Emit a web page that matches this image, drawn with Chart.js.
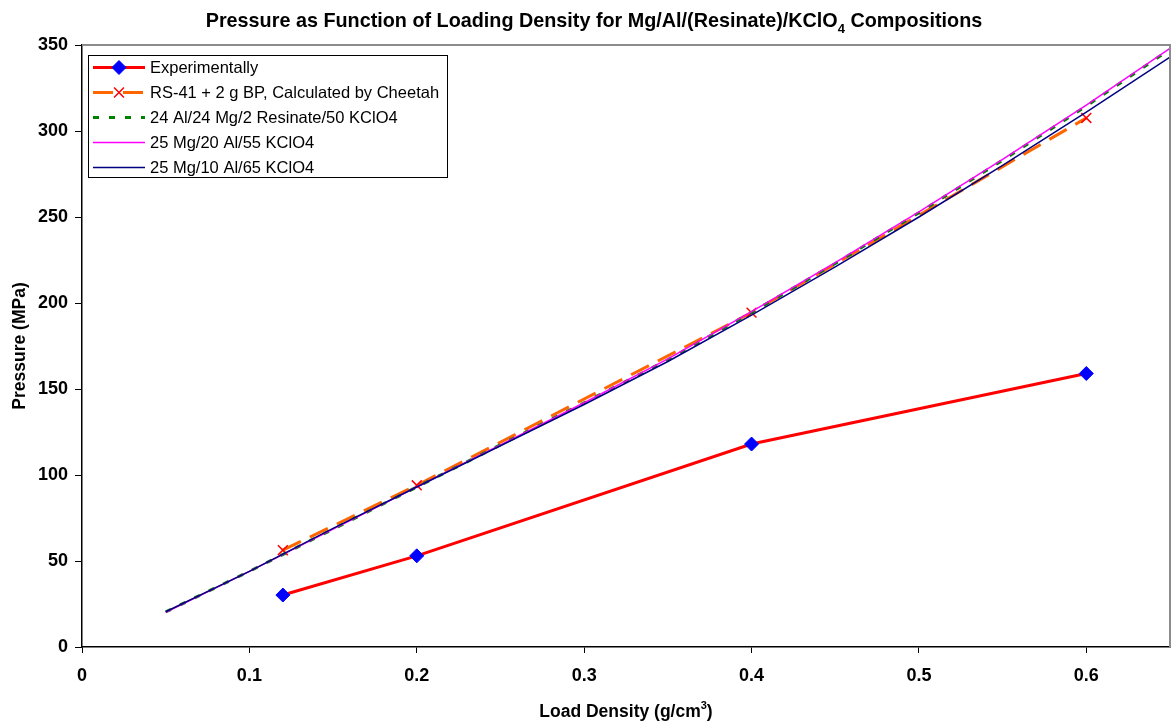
<!DOCTYPE html>
<html><head><meta charset="utf-8">
<script src="https://cdn.jsdelivr.net/npm/chart.js@4"></script>
<style>html,body{margin:0;padding:0;background:#fff}</style>
</head><body>
<canvas id="c" width="1171" height="722"></canvas>
<script>
// ---- data ----
const seriesNames = [
  'Experimentally',
  'RS-41 + 2 g BP, Calculated by Cheetah',
  '24 Al/24 Mg/2 Resinate/50 KClO4',
  '25 Mg/20 Al/55 KClO4',
  '25 Mg/10 Al/65 KClO4'
];
const expX = [0.12, 0.2, 0.4, 0.6];
const expY = [30.2, 53, 118, 159];
const cheetahX = [0.12, 0.2, 0.4, 0.6];
const cheetahY = [56.3, 94, 194.4, 307.6];
const compX = [0.05, 0.1, 0.15, 0.2, 0.25, 0.3, 0.35, 0.4, 0.45, 0.5, 0.55, 0.6, 0.65];
const resinateY = [20.4, 44, 68.5, 93, 117.5, 142, 167, 194.5, 223, 252.5, 283, 314.5, 347.5];
const mg20Y = [20.2, 44, 68.5, 93, 117.5, 142, 167.5, 195, 223.5, 253, 283.5, 315, 348];
const mg10Y = [20.5, 44, 69, 93, 117, 141, 166, 193, 221, 250, 280, 311, 343];
const xTicks = [0, 0.1, 0.2, 0.3, 0.4, 0.5, 0.6];
const yTicks = [0, 50, 100, 150, 200, 250, 300, 350];

const titleParts = [['Pressure as Function of Loading Density for Mg/Al/(Resinate)/KClO', 0], ['4', 1], [' Compositions', 0]];
const xTitleParts = [['Load Density (g/cm', 0], ['3', -1], [')', 0]];
const yTitle = 'Pressure (MPa)';

const pts = (xs, ys) => xs.map((x, i) => ({x: x, y: ys[i]}));
const FONT = '"Liberation Sans", Arial, sans-serif';
Chart.defaults.font.family = FONT;

function drawParts(ctx, parts, cx, cy, size, fam) {
  const small = Math.round(size * 0.65);
  let total = 0;
  parts.forEach(p => {
    ctx.font = 'bold ' + (p[1] ? small : size) + 'px ' + fam;
    total += ctx.measureText(p[0]).width;
  });
  let x = cx - total / 2;
  ctx.textBaseline = 'alphabetic';
  ctx.textAlign = 'left';
  parts.forEach(p => {
    ctx.font = 'bold ' + (p[1] ? small : size) + 'px ' + fam;
    const dy = p[1] === 1 ? size * 0.3 : (p[1] === -1 ? -size * 0.45 : 0);
    ctx.fillText(p[0], x, cy + size * 0.36 + dy);
    x += ctx.measureText(p[0]).width;
  });
}

const decor = {
  id: 'decor',
  afterDatasetsDraw(chart) {
    const ctx = chart.ctx, a = chart.chartArea;
    ctx.save();
    // gray top/right frame
    ctx.strokeStyle = '#8c8c8c';
    ctx.lineWidth = 2;
    ctx.beginPath();
    ctx.moveTo(a.left, a.top); ctx.lineTo(a.right, a.top); ctx.lineTo(a.right, a.bottom);
    ctx.stroke();
    // legend
    const lx = 88, ly = 55, lw = 359, lh = 122;
    ctx.fillStyle = '#fff';
    ctx.fillRect(lx, ly, lw, lh);
    ctx.strokeStyle = '#000'; ctx.lineWidth = 1;
    ctx.strokeRect(lx + 0.5, ly + 0.5, lw, lh);
    chart.data.datasets.forEach((ds, i) => {
      const y = 67.5 + i * 25;
      ctx.save();
      ctx.strokeStyle = ds.borderColor;
      ctx.lineWidth = ds.borderWidth;
      ctx.setLineDash(ds.borderDash || []);
      ctx.beginPath(); ctx.moveTo(93, y); ctx.lineTo(145, y); ctx.stroke();
      ctx.restore();
      if (ds.pointRadius > 0) {
        ctx.save();
        ctx.fillStyle = ds.pointBackgroundColor; ctx.strokeStyle = ds.pointBorderColor;
        ctx.lineWidth = ds.pointBorderWidth;
        Chart.helpers.drawPoint(ctx, {
          pointStyle: ds.pointStyle, radius: ds.pointRadius, rotation: 0,
          borderWidth: ds.pointBorderWidth
        }, 119, y);
        ctx.restore();
      }
      ctx.fillStyle = '#000';
      ctx.font = '16.5px ' + FONT;
      ctx.textAlign = 'left'; ctx.textBaseline = 'middle';
      ctx.fillText(ds.label, 150, y + 1);
    });
    ctx.restore();
  },
  afterDraw(chart) {
    const ctx = chart.ctx, a = chart.chartArea;
    ctx.save();
    ctx.fillStyle = '#000';
    drawParts(ctx, titleParts, 594, 20, 19.8, FONT);
    drawParts(ctx, xTitleParts, (a.left + a.right) / 2, 711, 17.5, FONT);
    ctx.translate(20, (a.top + a.bottom) / 2);
    ctx.rotate(-Math.PI / 2);
    ctx.font = 'bold 17.5px ' + FONT;
    ctx.textAlign = 'center'; ctx.textBaseline = 'middle';
    ctx.fillText(yTitle, 0, 0);
    ctx.restore();
  }
};

new Chart(document.getElementById('c'), {
  type: 'line',
  data: {
    datasets: [
      {label: seriesNames[0], data: pts(expX, expY), borderColor: '#ff0000', borderWidth: 3,
       pointStyle: 'rectRot', pointRadius: 7, pointBackgroundColor: '#0000ff', pointBorderColor: '#0000ff',
       pointBorderWidth: 1, order: 0},
      {label: seriesNames[1], data: pts(cheetahX, cheetahY), borderColor: '#ff6600', borderWidth: 3,
       borderDash: [20, 10], pointStyle: 'crossRot', pointRadius: 7, pointBackgroundColor: '#ff0000',
       pointBorderColor: '#ff0000', pointBorderWidth: 1.5, order: 4},
      {label: seriesNames[2], data: pts(compX, resinateY), borderColor: '#008000', borderWidth: 3,
       borderDash: [6, 10], pointRadius: 0, order: 3},
      {label: seriesNames[3], data: pts(compX, mg20Y), borderColor: '#ff00ff', borderWidth: 1.5,
       pointRadius: 0, order: 2},
      {label: seriesNames[4], data: pts(compX, mg10Y), borderColor: '#000080', borderWidth: 1.5,
       pointRadius: 0, order: 1}
    ]
  },
  options: {
    responsive: false, animation: false, devicePixelRatio: 1,
    layout: {autoPadding: false, padding: {top: 45, right: 1, left: 0, bottom: 0}},
    plugins: {legend: {display: false}, title: {display: false}, tooltip: {enabled: false}},
    elements: {line: {tension: 0, fill: false}},
    scales: {
      x: {
        type: 'linear', min: 0, max: 0.65,
        afterFit: s => { s.height = 75; s.paddingRight = 0; s.paddingLeft = 0; },
        afterBuildTicks: s => { s.ticks = xTicks.map(v => ({value: v})); },
        ticks: {font: {size: 18, weight: 'bold'}, color: '#000', padding: 12, maxRotation: 0,
                callback: v => String(+v.toFixed(1))},
        grid: {drawOnChartArea: false, drawTicks: true, tickLength: 6, color: '#000'},
        border: {display: true, color: '#000', width: 1.5}
      },
      y: {
        type: 'linear', min: 0, max: 350,
        afterFit: s => { s.width = 82; },
        afterBuildTicks: s => { s.ticks = yTicks.map(v => ({value: v})); },
        ticks: {font: {size: 18, weight: 'bold'}, color: '#000', padding: 7},
        grid: {drawOnChartArea: false, drawTicks: true, tickLength: 7, color: '#000'},
        border: {display: true, color: '#000', width: 1.5}
      }
    }
  },
  plugins: [decor]
});
</script>
</body></html>
